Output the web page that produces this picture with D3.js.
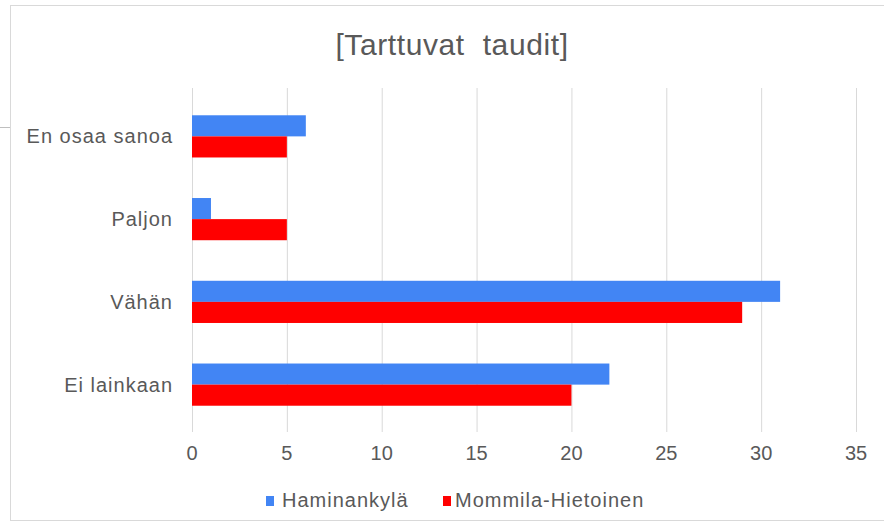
<!DOCTYPE html>
<html>
<head>
<meta charset="utf-8">
<script src="https://cdn.jsdelivr.net/npm/d3@7"></script>
<style>
  body { margin: 0; background: #fff; }
  svg text { font-family: "Liberation Sans", Arial, sans-serif; fill: #595959; }
</style>
</head>
<body>
<div id="chart"></div>
<script>
// chart data
const categories = ["En osaa sanoa", "Paljon", "Vähän", "Ei lainkaan"];
const seriesNames = ["Haminankylä", "Mommila-Hietoinen"];
const haminankyla = [6, 1, 31, 22];
const mommila = [5, 5, 29, 20];
const xTicks = [0, 5, 10, 15, 20, 25, 30, 35];
const colors = ["#4285f4", "#ff0000"];

const W = 884, H = 531;
const svg = d3.select("#chart").append("svg")
    .attr("width", W)
    .attr("height", H);

// frame
svg.append("rect")
    .attr("x", 10.5).attr("y", 5.5)
    .attr("width", W).attr("height", 515)
    .attr("fill", "none")
    .attr("stroke", "#d9d9d9");
svg.append("line")
    .attr("x1", 0).attr("x2", 10)
    .attr("y1", 127.5).attr("y2", 127.5)
    .attr("stroke", "#bfbfbf");

// title
svg.append("text")
    .attr("x", 452).attr("y", 55)
    .attr("text-anchor", "middle")
    .style("font-size", "30px")
    .style("letter-spacing", "0.6px")
    .style("white-space", "pre")
    .text("[Tarttuvat  taudit]");

const x = d3.scaleLinear().domain([0, 35]).range([192, 856]);
const y = d3.scaleBand().domain(categories).range([95, 426]).paddingInner(0.49).paddingOuter(0.245);
const ySub = d3.scaleBand().domain(seriesNames).range([0, y.bandwidth()]);

// gridlines
svg.append("g").selectAll("line")
    .data(xTicks)
    .join("line")
    .attr("x1", d => x(d) + 0.5).attr("x2", d => x(d) + 0.5)
    .attr("y1", 88).attr("y2", 432)
    .attr("stroke", "#d9d9d9");

// bars
const rows = categories.map((c, i) => ({cat: c, vals: [haminankyla[i], mommila[i]]}));
const g = svg.append("g").selectAll("g")
    .data(rows)
    .join("g")
    .attr("transform", d => `translate(0,${y(d.cat)})`);
g.selectAll("rect")
    .data(d => d.vals.map((v, j) => ({name: seriesNames[j], v, j})))
    .join("rect")
    .attr("x", x(0))
    .attr("y", d => ySub(d.name))
    .attr("width", d => x(d.v) - x(0))
    .attr("height", ySub.bandwidth())
    .attr("fill", d => colors[d.j]);

// category labels
svg.append("g").selectAll("text")
    .data(categories)
    .join("text")
    .attr("x", 173)
    .attr("y", d => y(d) + y.bandwidth() / 2)
    .attr("dy", "0.35em")
    .attr("text-anchor", "end")
    .style("font-size", "20px")
    .style("letter-spacing", "1px")
    .text(d => d);

// x tick labels
svg.append("g").selectAll("text")
    .data(xTicks)
    .join("text")
    .attr("x", d => x(d))
    .attr("y", 460)
    .attr("text-anchor", "middle")
    .style("font-size", "20px")
    .text(d => d);

// legend
const legendX = [266, 443];
const lg = svg.append("g").selectAll("g")
    .data(seriesNames)
    .join("g")
    .attr("transform", (d, i) => `translate(${legendX[i]},500)`);
lg.append("rect")
    .attr("x", 0).attr("y", -4)
    .attr("width", 8).attr("height", 10)
    .attr("fill", (d, i) => colors[i]);
lg.append("text")
    .attr("x", (d, i) => i === 0 ? 16 : 12).attr("y", 7)
    .style("font-size", "20px")
    .style("letter-spacing", "1px")
    .text(d => d);
</script>
</body>
</html>
